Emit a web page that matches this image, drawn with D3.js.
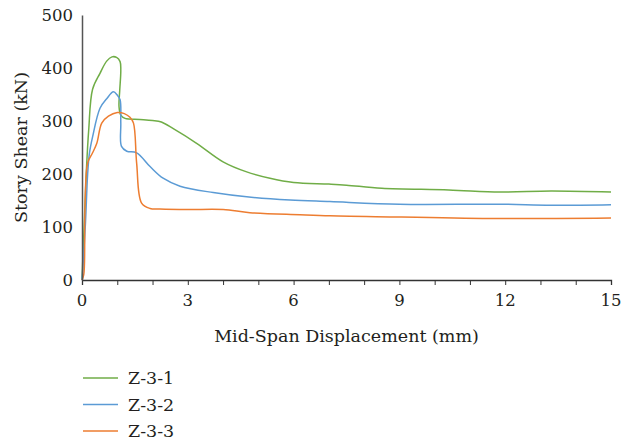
<!DOCTYPE html>
<html>
<head>
<meta charset="utf-8">
<script src="https://cdn.jsdelivr.net/npm/d3@7"></script>
<style>
  body { margin: 0; background: #fff; }
</style>
</head>
<body>
<div id="chart"></div>
<script>
const WIDTH = 621;
const HEIGHT = 443;
const MARGIN = { top: 15, right: 10, bottom: 163, left: 82 };
const FONT = "'DejaVu Serif', serif";

const X_DOMAIN = [0, 15];
const Y_DOMAIN = [0, 500];
const X_TICKS = [0, 3, 6, 9, 12, 15];
const X_MINOR = d3.range(0, 16, 1);
const Y_TICKS = [0, 100, 200, 300, 400, 500];

const SERIES_NAMES = ["Z-3-1", "Z-3-2", "Z-3-3"];
const SERIES_COLORS = ["#70ad47", "#5b9bd5", "#ed7d31"];

// [displacement mm, shear kN]
const Z31 = [
  [0, 0], [0.06, 100], [0.12, 200], [0.19, 283], [0.3, 360], [0.51, 390],
  [0.7, 413], [0.85, 421], [0.98, 420], [1.08, 412], [1.1, 395], [1.07, 358],
  [1.05, 327], [1.1, 311], [1.22, 305], [1.64, 303], [2.0, 301], [2.25, 298],
  [2.6, 285], [3.25, 258], [4.0, 223], [4.67, 204], [5.33, 192], [6.0, 184],
  [7.0, 181], [7.5, 179], [8.5, 173], [10.4, 170], [11.85, 166], [13.3, 168],
  [15, 166],
];
const Z32 = [
  [0, 0], [0.05, 50], [0.1, 110], [0.16, 200], [0.21, 239], [0.3, 270],
  [0.51, 324], [0.7, 342], [0.89, 355], [1.0, 349], [1.08, 340], [1.1, 296],
  [1.12, 252], [1.27, 243], [1.55, 240], [1.93, 214], [2.3, 192], [2.78, 177],
  [3.72, 165], [4.67, 157], [5.9, 151], [7.03, 148], [9.0, 143], [11.85, 143],
  [13.3, 141], [15, 142],
];
const Z33 = [
  [0, 0], [0.05, 10], [0.08, 120], [0.12, 200], [0.17, 223], [0.3, 240],
  [0.42, 258], [0.56, 296], [0.75, 309], [1.0, 316], [1.2, 314], [1.36, 307],
  [1.46, 296], [1.55, 220], [1.69, 145], [1.93, 135], [2.21, 134], [3.0, 133],
  [4.0, 133], [4.76, 127], [6.18, 123], [7.03, 121], [8.06, 120], [11.57, 116],
  [15, 117],
];
const SERIES_DATA = [Z31, Z32, Z33];

const svg = d3.select("#chart").append("svg")
  .attr("width", WIDTH)
  .attr("height", HEIGHT)
  .attr("font-family", FONT);

const innerW = WIDTH - MARGIN.left - MARGIN.right;
const innerH = HEIGHT - MARGIN.top - MARGIN.bottom;
const g = svg.append("g").attr("transform", `translate(${MARGIN.left},${MARGIN.top})`);

const x = d3.scaleLinear().domain(X_DOMAIN).range([0, innerW]);
const y = d3.scaleLinear().domain(Y_DOMAIN).range([innerH, 0]);

// curves
const line = d3.line()
  .x((d) => x(d[0]))
  .y((d) => y(d[1]))
  .curve(d3.curveCatmullRom.alpha(0.5));

SERIES_DATA.forEach((data, i) => {
  g.append("path")
    .datum(data)
    .attr("fill", "none")
    .attr("stroke", SERIES_COLORS[i])
    .attr("stroke-width", 1.5)
    .attr("d", line);
});

// x axis
const xAxis = g.append("g").attr("transform", `translate(0,${innerH})`);
xAxis.call(d3.axisBottom(x).tickValues(X_MINOR).tickSize(5).tickFormat(""));
xAxis.attr("font-family", FONT);
xAxis.select(".domain").attr("stroke", "#333").attr("stroke-width", 1.3);
xAxis.selectAll(".tick line").attr("stroke", "#333");
xAxis.selectAll(".label").data(X_TICKS).join("text")
  .attr("x", (d) => x(d))
  .attr("y", 26)
  .attr("text-anchor", "middle")
  .attr("font-size", 16.5)
  .attr("font-family", FONT)
  .attr("fill", "#231f20")
  .text((d) => d);

// y axis
const yAxis = g.append("g");
yAxis.call(d3.axisLeft(y).tickValues(Y_TICKS).tickSize(0).tickPadding(9).tickFormat(d3.format("d")));
yAxis.attr("font-family", FONT);
yAxis.select(".domain").attr("stroke", "#555").attr("stroke-width", 1.5);
yAxis.selectAll(".tick text")
  .attr("font-size", 16.5)
  .attr("font-family", FONT)
  .attr("fill", "#231f20");

// axis titles
g.append("text")
  .attr("x", innerW / 2)
  .attr("y", innerH + 62)
  .attr("text-anchor", "middle")
  .attr("font-size", 17.5)
  .attr("font-family", FONT)
  .attr("fill", "#231f20")
  .text("Mid-Span Displacement (mm)");

g.append("text")
  .attr("transform", "rotate(-90)")
  .attr("x", -innerH / 2)
  .attr("y", -55)
  .attr("text-anchor", "middle")
  .attr("font-size", 17.5)
  .attr("font-family", FONT)
  .attr("fill", "#231f20")
  .text("Story Shear (kN)");

// legend
const legend = svg.append("g").attr("transform", "translate(83,378)");
SERIES_NAMES.forEach((name, i) => {
  const row = legend.append("g").attr("transform", `translate(0,${i * 26.5})`);
  row.append("line")
    .attr("x1", 0).attr("x2", 35)
    .attr("stroke", SERIES_COLORS[i])
    .attr("stroke-width", 1.5);
  row.append("text")
    .attr("x", 45)
    .attr("y", 6)
    .attr("font-size", 17.5)
    .attr("font-family", FONT)
    .attr("fill", "#231f20")
    .text(name);
});
</script>
</body>
</html>
